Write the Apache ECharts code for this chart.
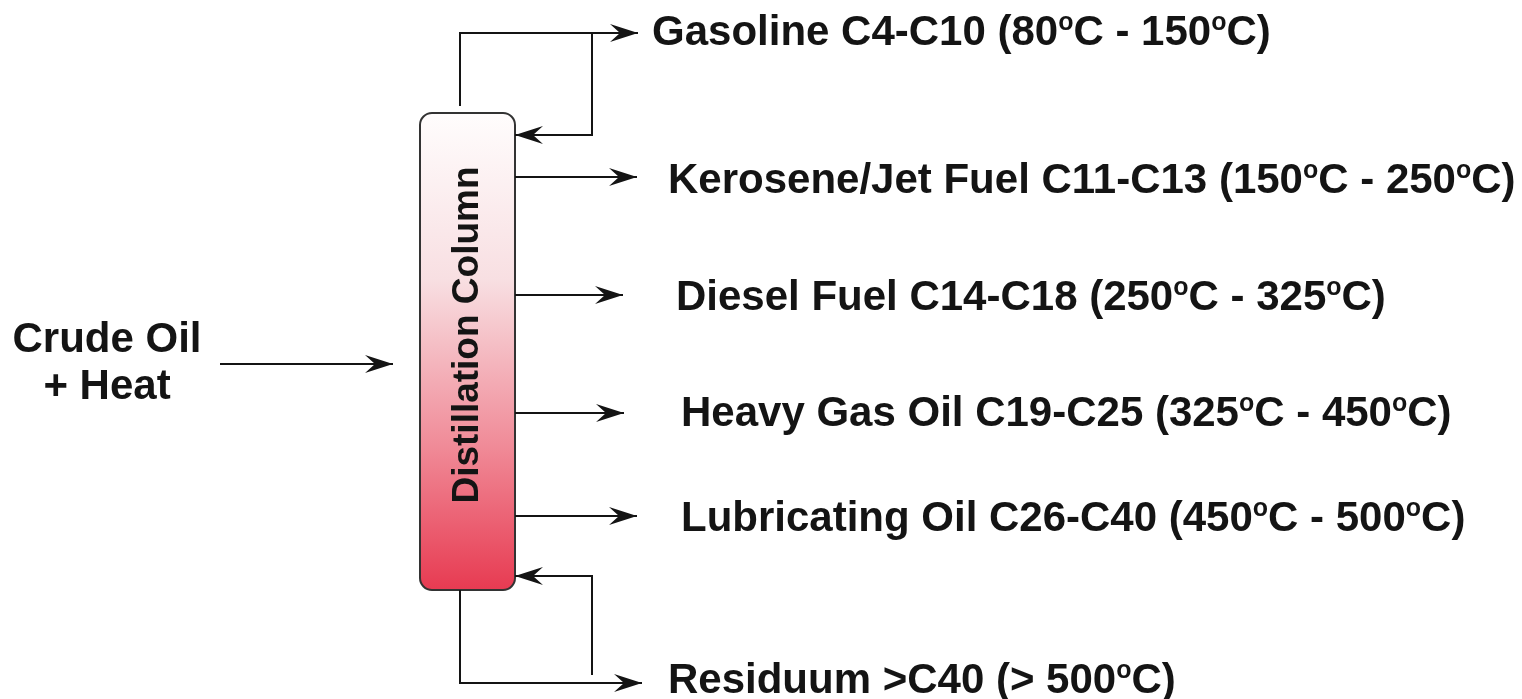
<!DOCTYPE html>
<html>
<head>
<meta charset="utf-8">
<title>Crude oil distillation</title>
<script src="https://cdn.jsdelivr.net/npm/echarts@6/dist/echarts.min.js"></script>
<style>
  html, body { margin: 0; padding: 0; background: #fff; }
  #chart { width: 1522px; height: 699px; }
</style>
</head>
<body>
<div id="chart"></div>
<script>
// diagram drawn in a hidden 1522 x 699 value space (y grows downward)
const products = ['Gasoline', 'Kerosene/Jet Fuel', 'Diesel Fuel', 'Heavy Gas Oil', 'Lubricating Oil', 'Residuum']
const carbonRanges = ['C4-C10', 'C11-C13', 'C14-C18', 'C19-C25', 'C26-C40', '>C40']
const tempLow = ['80', '150', '250', '325', '450', null]
const tempHigh = ['150', '250', '325', '450', '500', '500']

// where each product stream leaves the column and where its label sits
const streamY = [33, 177, 295, 413, 516, 683]
const arrowTipX = [638, 637, 623, 624, 637, 642]
const labelX = [652, 668, 676, 681, 681, 668]
const labelY = [33, 181, 298, 414, 519, 681]

// column body and feed
const columnX = [420, 515]
const columnY = [113, 590]
const columnTitle = 'Distillation Column'
const columnTitleY = 335
const feedLines = ['Crude Oil', '+ Heat']
const feedLabelY = [340, 387]
const feedArrow = [[220, 364], [393, 364]]

// reflux loops at the top and bottom of the column
const topDraw = [[460, 106], [460, streamY[0]], [arrowTipX[0], streamY[0]]]
const topReturn = [[592, streamY[0]], [592, 135], [columnX[1], 135]]
const bottomDraw = [[460, columnY[1]], [460, streamY[5]], [arrowTipX[5], streamY[5]]]
const bottomReturn = [[592, 675], [592, 576], [columnX[1], 576]]

const connectors = [topDraw, topReturn, bottomDraw, bottomReturn, feedArrow]
for (let i = 1; i <= 4; i++) {
  connectors.push([[columnX[1], streamY[i]], [arrowTipX[i], streamY[i]]])
}

function productText(i) {
  const t = tempLow[i]
    ? '(' + tempLow[i] + '{o|o}C - ' + tempHigh[i] + '{o|o}C)'
    : '(> ' + tempHigh[i] + '{o|o}C)'
  return products[i] + ' ' + carbonRanges[i] + ' ' + t
}

const FONT = '"Liberation Sans", Arial, Helvetica, sans-serif'
const INK = '#141414'

const chart = echarts.init(document.getElementById('chart'))

chart.setOption({
  animation: false,
  backgroundColor: '#fff',
  grid: { left: 0, right: 0, top: 0, bottom: 0 },
  xAxis: { type: 'value', min: 0, max: 1522, show: false },
  yAxis: { type: 'value', min: 0, max: 699, inverse: true, show: false },
  series: [
    {
      // the column
      type: 'custom',
      coordinateSystem: 'cartesian2d',
      clip: false,
      data: [[columnX[0], columnY[0], columnX[1], columnY[1]]],
      renderItem(params, api) {
        const p0 = api.coord([api.value(0), api.value(1)])
        const p1 = api.coord([api.value(2), api.value(3)])
        const mid = api.coord([0, columnTitleY])
        return {
          type: 'group',
          children: [
            {
              type: 'rect',
              shape: { x: p0[0], y: p0[1], width: p1[0] - p0[0], height: p1[1] - p0[1], r: 12 },
              style: {
                fill: new echarts.graphic.LinearGradient(0, 0, 0, 1, [
                  { offset: 0, color: '#fffdfd' },
                  { offset: 0.35, color: '#f8dfe2' },
                  { offset: 0.7, color: '#f08a97' },
                  { offset: 1, color: '#e73a51' }
                ]),
                stroke: '#333',
                lineWidth: 2
              }
            },
            {
              type: 'text',
              x: (p0[0] + p1[0]) / 2,
              y: mid[1],
              rotation: Math.PI / 2,
              style: {
                text: columnTitle,
                fontFamily: FONT,
                fontWeight: 'bold',
                fontSize: 37,
                fill: INK,
                align: 'center',
                verticalAlign: 'middle'
              }
            }
          ]
        }
      }
    },
    {
      // pipes and arrows
      type: 'custom',
      coordinateSystem: 'cartesian2d',
      clip: false,
      data: connectors.map((c, i) => [i, 0]),
      renderItem(params, api) {
        const path = connectors[api.value(0)]
        const pts = path.map(p => api.coord(p))
        const a = pts[pts.length - 1]
        const b = pts[pts.length - 2]
        const ang = Math.atan2(a[1] - b[1], a[0] - b[0])
        return {
          type: 'group',
          children: [
            {
              type: 'polyline',
              shape: { points: pts },
              style: { stroke: INK, lineWidth: 2, fill: null }
            },
            {
              type: 'polygon',
              x: a[0],
              y: a[1],
              rotation: -ang,
              shape: { points: [[0, 0], [-28, -9], [-18, 0], [-28, 9]] },
              style: { fill: INK }
            }
          ]
        }
      }
    },
    {
      // product labels
      type: 'custom',
      coordinateSystem: 'cartesian2d',
      clip: false,
      data: products.map((p, i) => [labelX[i], labelY[i], i]),
      renderItem(params, api) {
        const pt = api.coord([api.value(0), api.value(1)])
        return {
          type: 'text',
          x: pt[0],
          y: pt[1],
          style: {
            text: productText(api.value(2)),
            fontFamily: FONT,
            fontWeight: 'bold',
            fontSize: 42,
            fill: INK,
            align: 'left',
            verticalAlign: 'middle',
            rich: {
              o: {
                fontFamily: FONT,
                fontWeight: 'bold',
                fontSize: 25,
                fill: INK,
                verticalAlign: 'top',
                lineHeight: 44
              }
            }
          }
        }
      }
    },
    {
      // feed label
      type: 'custom',
      coordinateSystem: 'cartesian2d',
      clip: false,
      data: feedLines.map((t, i) => [107, feedLabelY[i], i]),
      renderItem(params, api) {
        const pt = api.coord([api.value(0), api.value(1)])
        return {
          type: 'text',
          x: pt[0],
          y: pt[1],
          style: {
            text: feedLines[api.value(2)],
            fontFamily: FONT,
            fontWeight: 'bold',
            fontSize: 42,
            fill: INK,
            align: 'center',
            verticalAlign: 'middle'
          }
        }
      }
    }
  ]
})
</script>
</body>
</html>
